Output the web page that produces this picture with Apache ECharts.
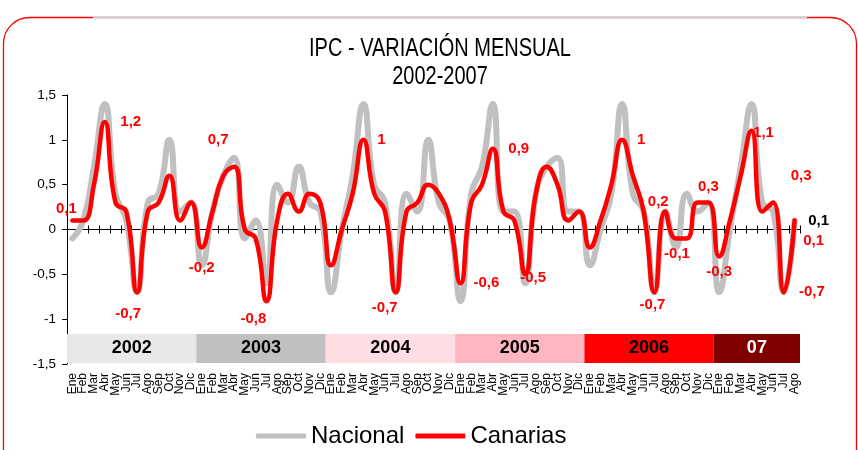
<!DOCTYPE html>
<html>
<head>
<meta charset="utf-8">
<script src="https://cdn.jsdelivr.net/npm/echarts@6/dist/echarts.min.js"></script>
<style>
html, body { margin: 0; padding: 0; background: #fff; }
#chart { width: 858px; height: 450px; }
</style>
</head>
<body>
<div id="chart"></div>
<script>
// meses y años
var meses = ['Ene', 'Feb', 'Mar', 'Abr', 'May', 'Jun', 'Jul', 'Ago', 'Sep', 'Oct', 'Nov', 'Dic'];
var anios = ['2002', '2003', '2004', '2005', '2006', '07'];
var aniosInicio = [0, 12, 24, 36, 48, 60];
var aniosFin = [11, 23, 35, 47, 59, 67];

// variacion mensual (%), Ene 2002 - Ago 2007
var nacional = [
  -0.1, 0.1, 0.7, 1.4, 0.4, 0.1, -0.7, 0.3, 0.4, 1.0, 0.2, 0.3,
  -0.4, 0.2, 0.6, 0.8, -0.1, 0.1, -0.6, 0.5, 0.3, 0.7, 0.3, 0.2,
  -0.7, 0.0, 0.6, 1.4, 0.5, 0.3, -0.7, 0.4, 0.2, 1.0, 0.3, 0.1,
  -0.8, 0.4, 0.7, 1.4, 0.2, 0.2, -0.6, 0.4, 0.7, 0.8, 0.2, 0.2,
  -0.4, 0.0, 0.4, 1.4, 0.4, 0.2, -0.7, 0.2, -0.2, 0.4, 0.2, 0.3,
  -0.7, 0.0, 0.7, 1.4, 0.3, 0.2, -0.7, 0.1
];
var canarias = [
  0.1, 0.1, 0.5, 1.2, 0.3, 0.2, -0.7, 0.2, 0.3, 0.6, 0.1, 0.3,
  -0.2, 0.2, 0.6, 0.7, 0.0, -0.1, -0.8, 0.1, 0.4, 0.2, 0.4, 0.3,
  -0.4, 0.0, 0.4, 1.0, 0.4, 0.2, -0.7, 0.2, 0.3, 0.5, 0.4, 0.1,
  -0.6, 0.3, 0.5, 0.9, 0.2, 0.1, -0.5, 0.4, 0.7, 0.5, 0.1, 0.2,
  -0.2, 0.1, 0.5, 1.0, 0.6, 0.2, -0.7, 0.2, -0.1, -0.1, 0.3, 0.3,
  -0.3, 0.1, 0.6, 1.1, 0.2, 0.3, -0.7, 0.1
];

var categorias = [];
for (var a = 0; a < aniosFin.length; a++) {
  for (var m = 0; m <= aniosFin[a] - aniosInicio[a]; m++) categorias.push(meses[m]);
}

// desplazamiento de las etiquetas (como en el grafico original)
var etiquetasCanarias = {
  0: [-6, -12], 3: [26, 0], 6: [-9, 22], 12: [0, 20], 15: [-16, -27], 18: [-13, 18],
  27: [18, 0], 30: [-11, 16], 36: [26, 0], 39: [26, 0], 42: [8, 4], 51: [19, 0],
  54: [-2, 13], 55: [-7, -10], 56: [1, 15], 59: [0, -16], 60: [0, 15], 63: [12, 2],
  65: [28, -27], 66: [28, 0], 67: [19, 20]
};
var etiquetasNacional = { 67: [24, 0] };
var coloresAnios = ['#e8e8e8', '#c0c0c0', '#ffdde2', '#ffb6c1', '#ff0000', '#800000'];

function coma(v) { return String(v).replace('.', ','); }

function conEtiquetas(valores, mapa, color) {
  return valores.map(function (v, i) {
    if (!mapa[i]) return v;
    return {
      value: v,
      label: {
        show: true, position: 'inside', offset: mapa[i],
        formatter: function (p) { return coma(p.value); },
        color: color, fontSize: 15, fontWeight: 'bold',
        fontFamily: '"Liberation Sans", Arial, sans-serif'
      }
    };
  });
}

var datosAnios = anios.map(function (n, i) { return [aniosInicio[i], aniosFin[i]]; });

var myChart = echarts.init(document.getElementById('chart'));
var option = {
  animation: false,
  backgroundColor: '#fff',
  textStyle: { fontFamily: '"Liberation Sans", Arial, sans-serif' },
  graphic: [
    { type: 'rect', shape: { x: 3.5, y: 17.5, width: 853, height: 480, r: 26 },
      style: { fill: null, stroke: '#ff0000', lineWidth: 1.3 }, z: 0 },
    { type: 'line', shape: { x1: 93, y1: 17.5, x2: 807, y2: 17.5 },
      style: { stroke: '#d4d4d4', lineWidth: 2.5 }, z: 1 },
    { type: 'text', x: 440, y: 49, scaleX: 0.8,
      style: { text: 'IPC - VARIACIÓN MENSUAL', fill: '#000', align: 'center', verticalAlign: 'middle',
        font: '25px "Liberation Sans", Arial, sans-serif' } },
    { type: 'text', x: 440, y: 77, scaleX: 0.8,
      style: { text: '2002-2007', fill: '#000', align: 'center', verticalAlign: 'middle',
        font: '25px "Liberation Sans", Arial, sans-serif' } }
  ],
  legend: {
    data: [{ name: 'Nacional', icon: 'roundRect' }, { name: 'Canarias', icon: 'roundRect' }],
    left: 256, top: 424, padding: 0,
    itemWidth: 50, itemHeight: 5, itemGap: 11,
    textStyle: { fontSize: 24, color: '#000' }
  },
  grid: [
    { left: 67, right: 58, top: 95, bottom: 86 },
    { left: 67, right: 58, top: 334, height: 29 }
  ],
  xAxis: [
    { gridIndex: 0, type: 'category', data: categorias, position: 'bottom',
      axisLine: { show: true, onZero: true, onZeroAxisIndex: 0, lineStyle: { color: '#000', width: 1 } },
      axisTick: { show: true, inside: true, length: 4, interval: 0, lineStyle: { color: '#000', width: 1 } },
      axisLabel: { show: false } },
    { gridIndex: 0, type: 'category', data: categorias, position: 'top',
      axisLine: { show: true, onZero: true, onZeroAxisIndex: 0, lineStyle: { color: '#000', width: 1 } },
      axisTick: { show: true, inside: true, length: 4, interval: 0, lineStyle: { color: '#000', width: 1 } },
      axisLabel: { show: false } },
    { gridIndex: 1, type: 'category', data: categorias, position: 'bottom',
      axisLine: { show: false }, axisTick: { show: false },
      axisLabel: { interval: 0, rotate: 90, fontSize: 12, margin: 10, color: '#000' } }
  ],
  yAxis: [
    { gridIndex: 0, type: 'value', min: -1.5, max: 1.5, interval: 0.5,
      axisLine: { show: true, lineStyle: { color: '#000' } },
      axisTick: { show: true, length: 5, lineStyle: { color: '#000' } },
      splitLine: { show: false },
      axisLabel: { formatter: coma, fontSize: 13.5, margin: 11, color: '#000' } },
    { gridIndex: 1, type: 'value', min: 0, max: 1, show: false }
  ],
  series: [
    { name: 'Nacional', type: 'line', xAxisIndex: 0, yAxisIndex: 0,
      data: conEtiquetas(nacional, etiquetasNacional, '#000'),
      smooth: true, symbol: 'circle', symbolSize: 1, showAllSymbol: true,
      itemStyle: { color: '#c0c0c0' },
      lineStyle: { color: '#c0c0c0', width: 6, cap: 'round', join: 'round' }, z: 2 },
    { name: 'Canarias', type: 'line', xAxisIndex: 0, yAxisIndex: 0,
      data: conEtiquetas(canarias, etiquetasCanarias, '#ff0000'),
      smooth: true, symbol: 'circle', symbolSize: 1, showAllSymbol: true,
      itemStyle: { color: '#ff0000' },
      lineStyle: { color: '#ff0000', width: 4.5, cap: 'round', join: 'round' }, z: 3 },
    { type: 'custom', xAxisIndex: 2, yAxisIndex: 1, silent: true, z: 5,
      data: datosAnios,
      renderItem: function (params, api) {
        var ini = api.coord([api.value(0), 1]);
        var fin = api.coord([api.value(1), 0]);
        var ancho = api.size([1, 0])[0];
        var x0 = ini[0] - ancho / 2, x1 = fin[0] + ancho / 2;
        var i = params.dataIndex;
        return {
          type: 'group',
          children: [
            { type: 'rect', shape: { x: x0, y: ini[1], width: x1 - x0, height: fin[1] - ini[1] },
              style: { fill: coloresAnios[i] } },
            { type: 'text', x: (x0 + x1) / 2, y: (ini[1] + fin[1]) / 2,
              style: { text: anios[i], align: 'center', verticalAlign: 'middle',
                fill: i === 5 ? '#fff' : '#000',
                font: 'bold 18px "Liberation Sans", Arial, sans-serif' } }
          ]
        };
      } }
  ]
};
myChart.setOption(option);
</script>
</body>
</html>
